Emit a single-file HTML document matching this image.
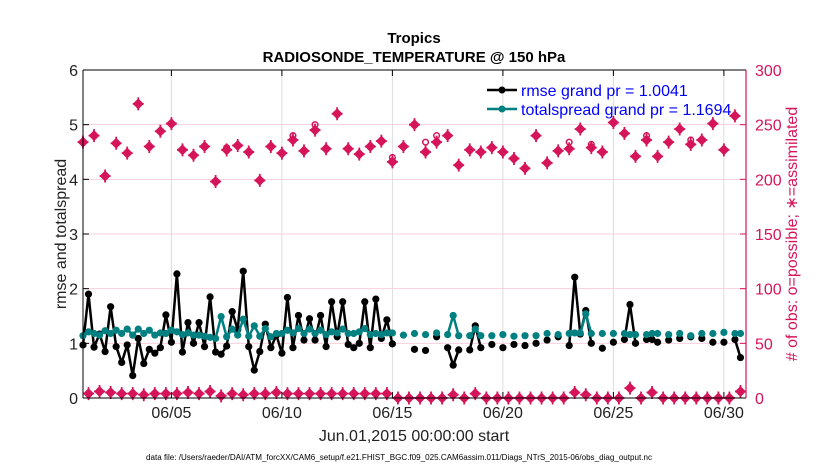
<!DOCTYPE html>
<html><head><meta charset="utf-8"><style>
html,body{margin:0;padding:0;background:#fff;}
svg{display:block;font-family:"Liberation Sans",sans-serif;}
</style></head><body>
<svg id="chart" width="830" height="470" viewBox="0 0 830 470" xmlns="http://www.w3.org/2000/svg">
<rect x="0" y="0" width="830" height="470" fill="#fff"/>
<g id="grid"></g>
<g id="marks"></g>
<g id="axes"></g>
<text x="414" y="43" text-anchor="middle" font-weight="bold" font-size="15">Tropics</text>
<text x="414" y="62" text-anchor="middle" font-weight="bold" font-size="15">RADIOSONDE_TEMPERATURE @ 150 hPa</text>
<text transform="translate(66,234) rotate(-90)" text-anchor="middle" font-size="16" fill="#222">rmse and totalspread</text>
<text transform="translate(797,234) rotate(-90)" text-anchor="middle" font-size="16" fill="#d6145a"># of obs: o=possible; ∗=assimilated</text>
<text x="414" y="441" text-anchor="middle" font-size="16" fill="#222">Jun.01,2015 00:00:00 start</text>
<text x="146" y="460" font-size="8" textLength="506" lengthAdjust="spacingAndGlyphs" fill="#000">data file: /Users/raeder/DAI/ATM_forcXX/CAM6_setup/f.e21.FHIST_BGC.f09_025.CAM6assim.011/Diags_NTrS_2015-06/obs_diag_output.nc</text>
<g>
<line x1="487" y1="90" x2="517" y2="90" stroke="#000" stroke-width="2.5"/>
<circle cx="502" cy="90" r="3.5" fill="#000"/>
<text x="521" y="96" font-size="16" fill="#0000ff">rmse grand pr = 1.0041</text>
<line x1="487" y1="109" x2="517" y2="109" stroke="#008080" stroke-width="2.5"/>
<circle cx="502" cy="109" r="3.5" fill="#008080"/>
<text x="521" y="115" font-size="16" fill="#0000ff">totalspread grand pr = 1.1694</text>
</g>
</svg>
<script>
// 6-hourly slots, index i -> day i/4 from Jun 01 00Z
const rmse = [0.97,1.90,0.93,1.17,0.85,1.67,0.94,0.65,0.97,0.41,1.09,0.63,0.89,0.82,0.92,1.52,1.02,2.27,0.84,1.38,1.00,1.38,0.94,1.85,0.84,0.80,0.95,1.58,1.25,2.32,0.94,0.51,0.85,1.35,0.92,1.15,0.82,1.84,0.92,1.51,1.06,1.45,1.06,1.51,0.94,1.76,1.12,1.76,0.98,0.92,1.00,1.76,0.92,1.81,1.09,1.43,0.99,null,null,null,
0.89,null,0.87,null,1.12,null,0.92,0.60,0.88,null,0.88,1.32,0.92,null,0.98,null,0.92,null,0.98,null,0.96,null,1.00,null,1.06,null,1.12,null,0.96,2.21,1.17,1.60,1.00,null,0.91,null,1.02,null,1.07,1.71,1.00,null,1.07,1.07,1.02,null,1.06,null,1.09,null,1.12,null,1.09,null,1.02,null,1.02,null,1.07,0.74];
const spread = [1.14,1.21,1.18,1.15,1.23,1.18,1.24,1.18,1.26,1.15,1.26,1.18,1.24,1.15,1.19,1.18,1.24,1.21,1.16,1.19,1.15,1.15,1.13,1.11,1.09,1.49,1.12,1.26,1.15,1.44,1.13,1.32,1.13,1.27,1.12,1.18,1.18,1.24,1.19,1.27,1.18,1.26,1.18,1.24,1.16,1.21,1.19,1.26,1.18,1.18,1.21,1.27,1.16,1.18,1.16,1.19,1.19,null,1.15,null,
1.18,null,1.16,null,1.19,null,1.16,1.51,1.14,null,1.14,1.26,1.14,null,1.14,null,1.16,null,1.13,null,1.14,null,1.14,null,1.18,null,1.16,null,1.18,1.19,1.19,1.54,1.18,null,1.18,null,1.18,null,1.18,1.16,1.16,null,1.16,1.18,1.18,null,1.16,null,1.18,null,1.14,null,1.18,null,1.18,null,1.20,null,1.18,1.18];
// 12-hourly obs counts at 00Z (even slots)
const possible00 = [234,240,203,233,224,269,230,244,251,227,222,230,198,229,231,225,199,230,224,240,226,250,228,260,228,223,230,235,220,230,
250,234,240,240,213,227,225,229,225,219,210,240,215,226,234,246,232,225,252,242,221,240,221,234,246,236,236,251,227,258];
const assim00 = [234,240,203,233,224,269,230,244,251,227,222,230,198,227,231,225,199,230,224,236,226,245,228,260,228,223,230,235,216,230,
250,225,234,240,213,227,225,229,225,219,210,240,215,226,228,246,229,225,252,242,221,236,221,234,246,232,236,251,227,258];
// 12-hourly obs counts at 12Z (odd slots)
const possible12 = [4,6,5,4,4,3,4,4,4,5,4,6,2,4,3,4,4,5,4,4,4,4,4,4,4,4,4,4,0,0,
0,0,0,3,0,4,0,0,0,0,0,0,0,0,5,3,0,0,0,9,0,5,0,0,0,0,0,0,0,6];
const xTickDays = [4,9,14,19,24,29];
const xTickLabels = ["06/05","06/10","06/15","06/20","06/25","06/30"];
const yTicks = [0,1,2,3,4,5,6];
const y2Ticks = [0,50,100,150,200,250,300];

const NS="http://www.w3.org/2000/svg";
const L=83,R=746,T=70,B=398;
const xDay = d => L + d*(R-L)/30;
const xSlot = i => xDay(i/4);
const yL = v => B - v*(B-T)/6;
const yR = v => B - v*(B-T)/300;
function mk(tag, attrs, parent){const e=document.createElementNS(NS,tag);for(const k in attrs)e.setAttribute(k,attrs[k]);parent.appendChild(e);return e;}
const grid=document.getElementById('grid'), marks=document.getElementById('marks'), axes=document.getElementById('axes');
const PINK="#d6145a";

xTickDays.forEach((d,k)=>{
  const g=mk('line',{x1:xDay(d),x2:xDay(d),y1:T,y2:B,stroke:'#dddddd','stroke-width':1},grid);
  
  
  mk('line',{x1:xDay(d),x2:xDay(d),y1:B,y2:B-6,stroke:'#000'},axes);
  mk('line',{x1:xDay(d),x2:xDay(d),y1:T,y2:T+6,stroke:'#000'},axes);
  const t=mk('text',{x:xDay(d),y:418,'text-anchor':'middle','font-size':16,fill:'#222'},axes);
  t.textContent=xTickLabels[k];
  
  
});
y2Ticks.forEach(v=>{
  const g=mk('line',{x1:L,x2:R,y1:yR(v),y2:yR(v),stroke:'#f7cfdc','stroke-width':1},grid);
  
  
  mk('line',{x1:R,x2:R-6,y1:yR(v),y2:yR(v),stroke:PINK},axes);
  const t=mk('text',{x:755,y:yR(v)+6,'font-size':16,fill:PINK},axes);
  t.textContent=v;
  
  
});
yTicks.forEach(v=>{
  mk('line',{x1:L,x2:L+6,y1:yL(v),y2:yL(v),stroke:'#000'},axes);
  const t=mk('text',{x:78,y:yL(v)+6,'text-anchor':'end','font-size':16,fill:'#222'},axes);
  t.textContent=v;
  
  
});
mk('line',{x1:L,x2:R,y1:T,y2:T,stroke:'#000'},axes);
mk('line',{x1:L,x2:R,y1:B,y2:B,stroke:'#000'},axes);
mk('line',{x1:L,x2:L,y1:T,y2:B,stroke:'#000'},axes);
mk('line',{x1:R,x2:R,y1:T,y2:B,stroke:PINK,'stroke-width':1.2},axes);

function star(x,y,name){
  const g=mk('g',{},marks);
  
  
  mk('path',{d:`M${x} ${y-5.5}L${x+5.5} ${y}L${x} ${y+5.5}L${x-5.5} ${y}Z`,fill:PINK},g);
  mk('path',{d:`M${x-5.5} ${y}H${x+5.5}M${x} ${y-6.5}V${y+6.5}`,stroke:PINK,'stroke-width':1.8},g);
}
function ring(x,y,name){
  const c=mk('circle',{cx:x,cy:y,r:2.8,fill:'none',stroke:PINK,'stroke-width':1.5},marks);
  
  
}
possible00.forEach((v,k)=>{ ring(xSlot(2*k),yR(v),'possible-obs-00z'); });
assim00.forEach((v,k)=>{ star(xSlot(2*k),yR(v),'assimilated-obs-00z'); });
possible12.forEach((v,k)=>{ ring(xSlot(2*k+1),yR(v),'possible-obs-12z'); star(xSlot(2*k+1),yR(v),'assimilated-obs-12z'); });

function series(arr,color,name){
  let d='';let pen=false;
  arr.forEach((v,i)=>{ if(v===null){pen=false;return;} d+=(pen?'L':'M')+xSlot(i).toFixed(1)+' '+yL(v).toFixed(1); pen=true; });
  const p=mk('path',{d:d,fill:'none',stroke:color,'stroke-width':2.5,'stroke-linejoin':'round'},marks);
  
  
  arr.forEach((v,i)=>{ if(v===null)return;
    const c=mk('circle',{cx:xSlot(i),cy:yL(v),r:3.6,fill:color},marks);
    
    
  });
}
series(rmse,'#000000','rmse');
series(spread,'#008080','totalspread');
</script>
</body></html>
